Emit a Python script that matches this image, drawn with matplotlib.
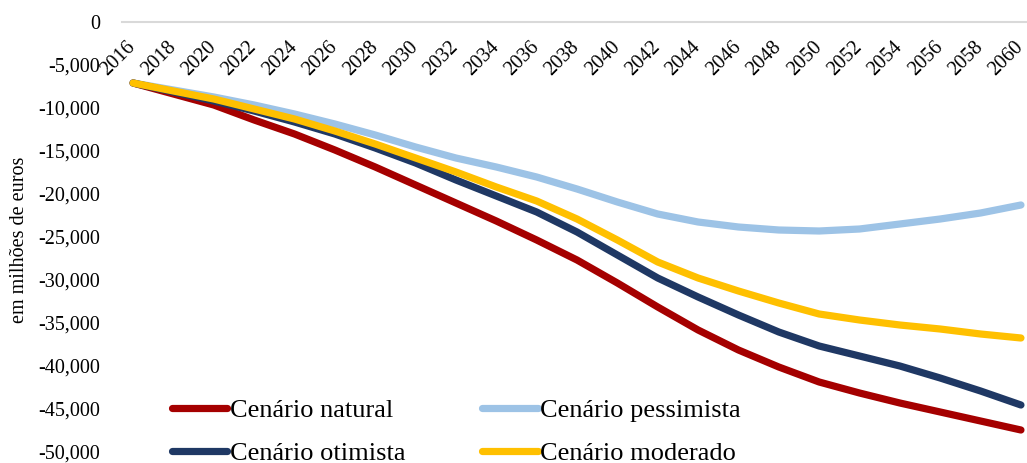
import matplotlib
matplotlib.use("Agg")
import matplotlib.pyplot as plt
import matplotlib.transforms as mtransforms
from matplotlib.ticker import FuncFormatter, MultipleLocator

plt.rcParams['font.family'] = ['Liberation Serif', 'DejaVu Serif']

years = list(range(2016, 2061, 2))

natural = [-7093, -8372, -9651, -11395, -13023, -14884, -16861, -18954, -21047, -23140,
           -25349, -27675, -30349, -33140, -35814, -38140, -40117, -41861, -43140, -44303,
           -45349, -46396, -47442]
pessimista = [-7093, -7907, -8721, -9651, -10698, -11861, -13140, -14535, -15814, -16861,
              -18023, -19419, -20930, -22326, -23256, -23837, -24186, -24302, -24070, -23489,
              -22907, -22209, -21279]
otimista = [-7093, -8140, -9186, -10349, -11628, -13023, -14651, -16396, -18372, -20233,
            -22093, -24419, -27093, -29768, -31977, -34070, -36047, -37675, -38837, -40000,
            -41396, -42907, -44535]
moderado = [-7093, -8023, -8953, -10116, -11279, -12675, -14186, -15814, -17442, -19186,
            -20814, -22907, -25349, -27907, -29768, -31279, -32675, -33954, -34651, -35233,
            -35698, -36279, -36744]

series_names = ["Cenário natural", "Cenário pessimista", "Cenário otimista", "Cenário moderado"]
colors = ["#A50000", "#9DC3E6", "#1F3864", "#FFC000"]
ylabel = "em milhões de euros"

fig = plt.figure(figsize=(10.27, 4.63), dpi=100)
ax = fig.add_axes([122/1027, 1-452/463, 1-122/1027, (452-22)/463])

handles = {}
for name, vals, c in zip(series_names, [natural, pessimista, otimista, moderado], colors):
    ln, = ax.plot(years, vals, color=c, lw=5.2, solid_capstyle='round', solid_joinstyle='round')
    handles[name] = ln

for s in ['top', 'right', 'left']:
    ax.spines[s].set_visible(False)
ax.spines['bottom'].set_position(('data', 0))
ax.spines['bottom'].set_color('#d9d9d9')
ax.spines['bottom'].set_linewidth(1.5)

ax.set_xlim(2015.45, 2060.3)
ax.set_ylim(-50000, 0)
ax.yaxis.set_major_locator(MultipleLocator(5000))
ax.yaxis.set_major_formatter(FuncFormatter(lambda v, p: f"{int(round(v)):,}"))
ax.set_xticks(years)
ax.set_xticklabels([str(y) for y in years])
ax.tick_params(axis='x', length=0, pad=11, labelsize=14.5, colors='black')
ax.tick_params(axis='y', length=0, pad=16, labelsize=14.5, colors='black')
shift = mtransforms.ScaledTranslation(-7/100, 0, fig.dpi_scale_trans)
for lab in ax.get_xticklabels():
    lab.set_rotation(45)
    lab.set_ha('right')
    lab.set_va('top')
    lab.set_rotation_mode('anchor')
    lab.set_transform(lab.get_transform() + shift)

fig.text(20/1027, 1-240/463, ylabel, rotation=90, ha='center', va='center', fontsize=14.5)

order = ["Cenário natural", "Cenário otimista", "Cenário pessimista", "Cenário moderado"]
leg = ax.legend([handles[n] for n in order], order, ncol=2, frameon=False,
                loc='upper left', bbox_to_anchor=(172/1027, 1-399/463),
                bbox_transform=fig.transFigure, fontsize=19, handlelength=2.1,
                handletextpad=0.1, columnspacing=2.9, labelspacing=0.72,
                borderpad=0, borderaxespad=0)

fig.savefig("out.png", dpi=100)
